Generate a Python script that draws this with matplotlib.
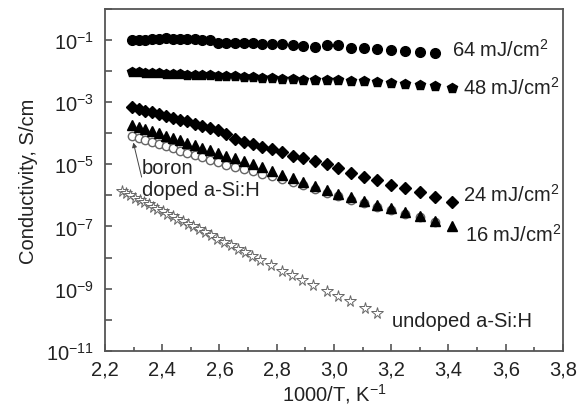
import numpy as np
import matplotlib
matplotlib.use("Agg")
import matplotlib.pyplot as plt
from matplotlib.ticker import FixedLocator, FuncFormatter, MultipleLocator

plt.rcParams['font.family'] = ['Liberation Sans', 'DejaVu Sans']
plt.rcParams['mathtext.fontset'] = 'custom'
plt.rcParams['mathtext.rm'] = 'Liberation Sans'
plt.rcParams['mathtext.it'] = 'Liberation Sans:italic'
plt.rcParams['mathtext.bf'] = 'Liberation Sans:bold'

# 1000/T values (K^-1) shared by the laser-treated series
x_main = [2.296, 2.318, 2.341, 2.365, 2.389, 2.413, 2.437, 2.462, 2.487, 2.513,
          2.540, 2.567, 2.595, 2.623, 2.653, 2.684, 2.716, 2.748, 2.782, 2.817,
          2.856, 2.892, 2.934, 2.975, 3.014, 3.059, 3.105, 3.149, 3.198, 3.248,
          3.300, 3.353, 3.411]

# log10 of conductivity (S/cm)
lg_64 = [-0.99, -0.99, -0.99, -0.98, -0.96, -0.94, -0.95, -0.96, -0.97, -0.98,
         -0.99, -1.00, -1.08, -1.09, -1.10, -1.10, -1.11, -1.12, -1.13, -1.13,
         -1.15, -1.19, -1.22, -1.17, -1.17, -1.26, -1.27, -1.28, -1.31, -1.34,
         -1.38, -1.42]
lg_48 = [-2.02, -2.04, -2.05, -2.06, -2.07, -2.08, -2.09, -2.10, -2.11, -2.12,
         -2.13, -2.14, -2.15, -2.16, -2.17, -2.18, -2.19, -2.21, -2.23, -2.25,
         -2.26, -2.27, -2.28, -2.29, -2.29, -2.31, -2.33, -2.35, -2.39, -2.41,
         -2.45, -2.47, -2.54]
lg_24 = [-3.17, -3.22, -3.28, -3.33, -3.39, -3.45, -3.50, -3.56, -3.62, -3.69,
         -3.76, -3.83, -3.90, -4.03, -4.20, -4.27, -4.35, -4.43, -4.51, -4.60,
         -4.72, -4.81, -4.90, -4.99, -5.12, -5.28, -5.40, -5.51, -5.67, -5.77,
         -5.90, -6.06, -6.22]
lg_16 = [-3.72, -3.79, -3.86, -3.93, -4.00, -4.08, -4.15, -4.23, -4.30, -4.38,
         -4.46, -4.55, -4.63, -4.72, -4.81, -4.90, -5.00, -5.10, -5.21, -5.35,
         -5.45, -5.58, -5.71, -5.82, -5.94, -6.06, -6.19, -6.31, -6.42, -6.55,
         -6.65, -6.82, -6.98]
lg_boron = [-4.08, -4.14, -4.21, -4.28, -4.35, -4.42, -4.49, -4.56, -4.63, -4.70,
            -4.78, -4.86, -4.93, -5.01, -5.08, -5.15, -5.22, -5.30, -5.38, -5.47,
            -5.57, -5.68, -5.80, -5.91, -6.02, -6.14, -6.26, -6.37, -6.48, -6.61,
            -6.71, -6.87]

x_undoped = [2.258, 2.273, 2.289, 2.305, 2.321, 2.336, 2.352, 2.368, 2.383, 2.401,
             2.418, 2.436, 2.453, 2.471, 2.490, 2.509, 2.528, 2.549, 2.570, 2.593,
             2.616, 2.640, 2.665, 2.689, 2.714, 2.741, 2.779, 2.817, 2.852, 2.889,
             2.928, 2.975, 3.015, 3.056, 3.108, 3.151]
lg_undoped = [-5.85, -5.92, -5.99, -6.07, -6.14, -6.21, -6.28, -6.36, -6.43, -6.51,
              -6.59, -6.67, -6.75, -6.83, -6.92, -7.00, -7.09, -7.19, -7.29, -7.39,
              -7.50, -7.61, -7.72, -7.83, -7.95, -8.07, -8.25, -8.42, -8.57, -8.72,
              -8.88, -9.07, -9.24, -9.41, -9.62, -9.79]

x_ticks = [2.2, 2.4, 2.6, 2.8, 3.0, 3.2, 3.4, 3.6, 3.8]

fig = plt.figure(figsize=(5.84, 4.10), dpi=100)
ax = fig.add_axes([0.1798, 0.1422, 0.7842, 0.8334])

n64 = len(lg_64)
nb = len(lg_boron)
ax.plot(x_main[:n64], 10.0 ** np.array(lg_64), 'o', ms=7, color='black', ls='none')
ax.plot(x_main, 10.0 ** np.array(lg_48), 'p', ms=7.5, color='black', ls='none')
ax.plot(x_main, 10.0 ** np.array(lg_24), 'D', ms=6, color='black', ls='none')
ax.plot(x_main[:nb], 10.0 ** np.array(lg_boron), 'o', ms=6, mfc='white',
        mec='#666666', mew=1.0, ls='none')
ax.plot(x_main, 10.0 ** np.array(lg_16), '^', ms=7, color='black', ls='none')
ax.plot(x_undoped, 10.0 ** np.array(lg_undoped), '*', ms=8.5, mfc='white',
        mec='#666666', mew=0.7, ls='none')

txt = dict(fontsize=14.5, color='#222222', va='baseline')
ax.text(3.412, 10 ** -1.51, '64 mJ/cm$^2$', **txt)
ax.text(3.449, 10 ** -2.72, '48 mJ/cm$^2$', **txt)
ax.text(3.452, 10 ** -6.17, '24 mJ/cm$^2$', **txt)
ax.text(3.458, 10 ** -7.46, '16 mJ/cm$^2$', **txt)
ax.text(3.202, 10 ** -10.2, 'undoped a-Si:H', **txt)
ax.text(2.328, 10 ** -5.28, 'boron', **txt)
ax.text(2.330, 10 ** -6.0, 'doped a-Si:H', **txt)
ax.annotate('', xy=(2.299, 10 ** -4.3), xytext=(2.328, 10 ** -5.41),
            arrowprops=dict(arrowstyle='-|>', color='#444444', lw=0.7,
                            mutation_scale=7, shrinkA=0, shrinkB=0))

ax.set_yscale('log')
ax.set_ylim(1e-11, 1e0)
ax.set_xlim(2.2, 3.8)
ax.yaxis.set_major_locator(FixedLocator([10.0 ** k for k in range(-11, 1)]))
ax.yaxis.set_minor_locator(FixedLocator([]))
ax.yaxis.set_major_formatter(FuncFormatter(
    lambda v, p: '$10^{%d}$' % round(np.log10(v)) if round(np.log10(v)) % 2 else ''))
ax.set_xticks(x_ticks)
ax.set_xticklabels([('%.1f' % t).replace('.', ',') for t in x_ticks])
ax.xaxis.set_minor_locator(MultipleLocator(0.1))

for s in ax.spines.values():
    s.set_color('#555555')
    s.set_linewidth(1.3)
ax.tick_params(which='both', direction='in', color='#555555', width=1.2,
               labelsize=14.5, labelcolor='#222222')
ax.tick_params(which='major', length=5)
ax.tick_params(which='minor', length=3)
ax.tick_params(axis='x', pad=6)
ax.tick_params(axis='y', pad=8)

ax.set_xlabel('1000/T, K$^{-1}$', fontsize=14.5, color='#222222', labelpad=2)
ax.set_ylabel('Conductivity, S/cm', fontsize=14.5, color='#222222', labelpad=6)

fig.savefig('out.png', dpi=100)
